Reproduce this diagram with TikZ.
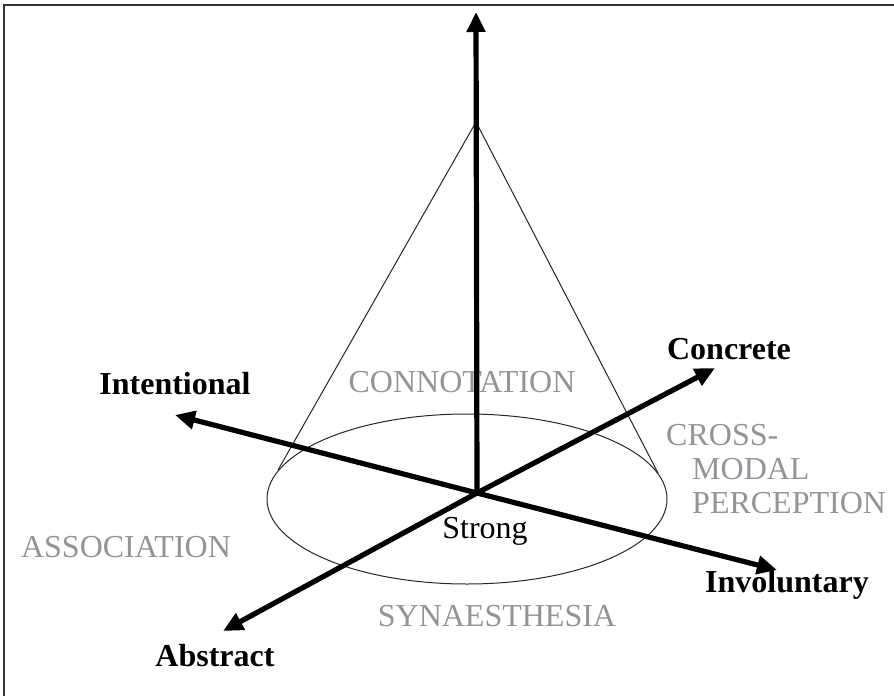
\documentclass[tikz,border=0pt]{standalone}
\usepackage{fontspec}
\setmainfont{Liberation Serif}
\usetikzlibrary{arrows.meta, positioning}
\definecolor{cAxis}{RGB}{0,0,0}
\definecolor{cZone}{RGB}{146,148,154}
\definecolor{cFrame}{RGB}{50,50,50}
\tikzset{
    axis/.style={
        -{Triangle[length=20pt, width=18pt]}, line width=5.2pt, draw=cAxis
    },
    cone/.style={line width=1pt, draw=black!85},
    poletext/.style={font=\fontsize{32}{36}\selectfont\bfseries, inner sep=0pt},
    zonetext/.style={font=\fontsize{32}{34}\selectfont, text=cZone, inner sep=0pt},
}
\begin{document}
\begin{tikzpicture}[x=1pt, y=-1pt]
\useasboundingbox (0,0) rectangle (894,696);

% ============================================================
%  Frame (top and left edges only)
% ============================================================
\draw[cFrame, line width=1.5pt] (894,5) -- (4,5) -- (4,696);

% ============================================================
%  Zone labels (grey), set first so the axes sit on top
% ============================================================
\node[zonetext] (conn)  at (462,382) {CONNOTATION};
\node[zonetext, align=left, anchor=north west] (cross) at (666,424)
    {CROSS-\\\hspace{26pt}MODAL\\\hspace{26pt}PERCEPTION};
\node[zonetext] (assoc) at (126,547) {ASSOCIATION};
\node[zonetext] (syn)   at (497,616) {SYNAESTHESIA};

% ============================================================
%  Cone: apex on the vertical axis, base ellipse round the origin
% ============================================================
\coordinate (apex) at (476,122);
\coordinate (baseL) at (278,470);
\coordinate (baseR) at (658,473);
\draw[cone] (467,499) ellipse [x radius=200, y radius=85];
\draw[cone] (baseL) -- (apex) -- (baseR);

% ============================================================
%  Axes from the common origin
% ============================================================
\coordinate (O) at (477,493);
\coordinate (top)    at (476,12);
\coordinate (intTip) at (175,415);
\coordinate (conTip) at (715,368);
\coordinate (invTip) at (777,570);
\coordinate (absTip) at (223,631);

\draw[axis] (O) -- (top);
\draw[axis] (O) -- (intTip);
\draw[axis] (O) -- (conTip);
\draw[axis] (O) -- (invTip);
\draw[axis] (O) -- (absTip);

% Pole labels
\node[poletext] (intent) at (175,384) {Intentional};
\node[poletext] (concr)  at (729,349) {Concrete};
\node[poletext] (invol)  at (787,585) {Involuntary};
\node[poletext] (abstr)  at (215,656) {Abstract};
\node[font=\fontsize{32}{36}\selectfont, inner sep=0pt] (strong) at (485,531) {Strong};

\end{tikzpicture}
\end{document}
